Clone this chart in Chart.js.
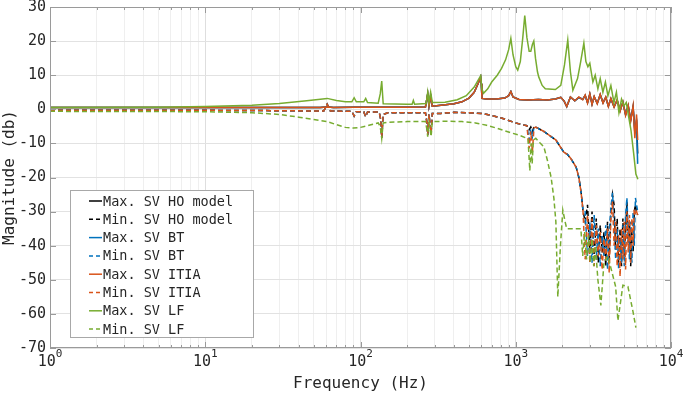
<!DOCTYPE html>
<html>
<head>
<meta charset="utf-8">
<script src="https://cdn.jsdelivr.net/npm/chart.js@4.4.1/dist/chart.umd.min.js"></script>
<style>
  body { margin: 0; background: #fff; }
  canvas { display: block; }
</style>
</head>
<body>
<canvas id="chart" width="685" height="393"></canvas>
<script>
// frequency grid (Hz) shared by the max SV curves of HO / BT / ITIA
const fMax = [1, 3, 10, 30, 55, 61, 67, 91, 137, 200,
  262, 271, 276, 283, 290, 330, 400, 450, 500, 540,
  575, 594, 600, 606, 650, 750, 850, 900, 930, 960,
  1050, 1200, 1400, 1600, 1800, 1950, 2050, 2130, 2250, 2400,
  2550, 2700, 2800, 2900, 3000, 3100, 3200, 3350, 3500, 3650,
  3800, 3950, 4100, 4300, 4500, 4700, 4900, 5100, 5300, 5500,
  5700, 5850, 6000, 6100];

const maxITIA = [0.5, 0.5, 0.5, 0.5, 0.5, 0.7, 0.5, 0.6, 0.6, 0.6,
  0.7, 4.5, 0.9, 4.0, 0.9, 1.2, 1.6, 2.2, 3.3, 5.0,
  7.8, 9.5, 7.5, 3.2, 3.0, 3.0, 3.3, 4.0, 5.2, 3.6,
  2.9, 2.7, 2.9, 2.7, 3.0, 3.5, 2.4, 0.8, 3.6, 2.5,
  3.6, 2.8, 4.2, 1.8, 4.6, 1.4, 3.8, 1.6, 4.4, 1.8,
  3.6, 0.8, 3.2, 0.6, 2.8, -0.6, 2.2, -1.8, 1.2, -3.5,
  1.0, -8.5, -1.5, -9];

const maxBT = [0.5, 0.5, 0.5, 0.5, 0.5, 0.7, 0.5, 0.6, 0.6, 0.6,
  0.7, 4.5, 0.9, 4.0, 0.9, 1.2, 1.6, 2.2, 3.3, 5.0,
  7.8, 9.5, 7.5, 3.2, 3.0, 3.0, 3.3, 4.0, 5.2, 3.6,
  2.9, 2.7, 2.9, 2.7, 3.0, 3.5, 2.4, 0.8, 3.6, 2.5,
  3.4, 3.0, 4.0, 2.0, 4.4, 1.6, 3.6, 1.8, 4.2, 2.0,
  3.4, 1.0, 3.0, 0.8, 2.6, -0.3, 2.0, -1.5, 1.0, -3.0,
  0.5, -6, -4, -16];

const maxHO = [0.5, 0.5, 0.5, 0.5, 0.5, 0.7, 0.5, 0.6, 0.6, 0.6,
  0.7, 4.5, 0.9, 4.0, 0.9, 1.2, 1.6, 2.2, 3.3, 5.0,
  7.8, 9.5, 7.5, 3.2, 3.0, 3.0, 3.3, 4.0, 5.2, 3.6,
  2.9, 2.7, 2.9, 2.7, 3.0, 3.5, 2.4, 0.8, 3.6, 2.5,
  3.5, 2.9, 4.1, 1.9, 4.5, 1.5, 3.7, 1.7, 4.3, 1.9,
  3.5, 0.9, 3.1, 0.7, 2.7, -0.4, 2.1, -1.6, 1.1, -3.2,
  0.8, -7, -3, -13];

// frequency grid (Hz) shared by the min SV curves of HO / BT / ITIA
const fMin = [1, 10, 30, 50, 58, 61, 64, 88, 91, 94,
  105, 108, 111, 132, 135, 137, 140, 150, 200, 262,
  268, 271, 276, 280, 285, 290, 330, 400, 500, 600,
  700, 800, 900, 1000, 1100, 1180, 1220, 1250, 1280, 1310,
  1346, 1517, 1813, 2040, 2150, 2260, 2450, 2550, 2640, 2710,
  2800, 2900, 3000, 3100, 3200, 3300, 3400, 3500, 3600, 3700,
  3800, 3900, 4000, 4100, 4200, 4300, 4400, 4500, 4600, 4700,
  4800, 4900, 5000, 5100, 5200, 5300, 5400, 5500, 5600, 5700,
  5800, 5900, 6000, 6100];

const minITIA = [-0.3, -0.3, -0.4, -0.5, -0.5, 1.5, -0.5, -0.6, -2.0, -0.7,
  -0.7, -2.2, -0.8, -0.8, -3.0, -8.3, -1.5, -1.0, -1.0, -1.0,
  -4.0, -7.5, -1.5, -4.0, -7.0, -1.2, -1.2, -0.9, -1.0, -1.2,
  -1.8, -2.5, -3.3, -4.0, -4.5, -4.8, -11.5, -6.5, -12.5, -5.5,
  -5.2, -6.5, -9.0, -12.6, -13.2, -14.4, -17.0, -20.0, -24.6, -29.6,
  -44, -31, -45, -32, -46, -34, -43, -36, -47, -38,
  -44, -35, -48, -32, -27, -40, -33, -46, -37, -49,
  -35, -44, -33, -47, -30, -42, -31, -45, -32, -40,
  -29, -31, -30, -31];

const minBT = [-0.3, -0.3, -0.4, -0.5, -0.5, 1.5, -0.5, -0.6, -2.0, -0.7,
  -0.7, -2.2, -0.8, -0.8, -3.0, -8.3, -1.5, -1.0, -1.0, -1.0,
  -4.0, -7.5, -1.5, -4.0, -7.0, -1.2, -1.2, -0.9, -1.0, -1.2,
  -1.8, -2.5, -3.3, -4.0, -4.5, -4.8, -9.0, -5.8, -8.0, -5.3,
  -5.2, -6.5, -9.0, -12.6, -13.2, -14.4, -17.0, -20.0, -24.6, -29.6,
  -30, -43, -33, -45, -31, -44, -35, -46, -37, -43,
  -34, -47, -36, -29, -24.5, -33, -44, -35, -47, -38,
  -45, -34, -46, -31, -26, -36, -44, -33, -45, -30,
  -40, -26, -28, -30];

const minHO = [-0.3, -0.3, -0.4, -0.5, -0.5, 1.5, -0.5, -0.6, -2.0, -0.7,
  -0.7, -2.2, -0.8, -0.8, -3.0, -8.3, -1.5, -1.0, -1.0, -1.0,
  -4.0, -7.5, -1.5, -4.0, -7.0, -1.2, -1.2, -0.9, -1.0, -1.2,
  -1.8, -2.5, -3.3, -4.0, -4.5, -4.8, -6.0, -5.2, -6.5, -5.2,
  -5.2, -6.5, -9.0, -12.6, -13.2, -14.4, -17.0, -20.0, -24.6, -29.6,
  -33, -28, -42, -30, -44, -32, -45, -34, -42, -36,
  -46, -33, -44, -30, -25, -28, -41, -32, -45, -35,
  -46, -32, -43, -36, -27, -39, -33, -46, -35, -42,
  -30, -28, -30, -31];

// LF reduced model
const fLfMax = [1, 5, 10, 20, 30, 45, 61, 70, 80, 88,
  91, 94, 105, 108, 111, 130, 134, 137, 140, 200,
  215, 219, 223, 265, 271, 276, 283, 290, 350, 420,
  480, 540, 580, 594, 605, 620, 660, 700, 760, 810,
  860, 900, 930, 960, 1000, 1030, 1070, 1110, 1143, 1180,
  1220, 1250, 1280, 1307, 1340, 1380, 1406, 1480, 1550, 1800,
  1950, 2060, 2163, 2250, 2333, 2500, 2620, 2746, 2830, 2915,
  3000, 3140, 3250, 3381, 3500, 3641, 3780, 3923, 4100, 4290,
  4450, 4620, 4800, 4975, 5150, 5280, 5520, 5750, 5940, 6120];

const maxLF = [0.5, 0.6, 0.8, 1.2, 1.7, 2.5, 3.2, 2.6, 2.2, 2.2,
  3.4, 2.2, 2.2, 3.2, 2.0, 1.8, 4.5, 8.3, 1.6, 1.5,
  1.5, 2.6, 1.5, 1.7, 5.0, 2.0, 5.0, 2.0, 2.1, 2.8,
  4.0, 6.5, 9.0, 9.8, 6.0, 4.7, 6.0, 8.0, 10.0, 12.0,
  14.5, 17.5, 20.8, 16.0, 12.5, 11.5, 14.0, 21.0, 27.5, 21.0,
  17.0, 17.0, 19.0, 20.0, 15.0, 11.0, 9.5, 7.0, 6.0, 5.8,
  7.0, 13.0, 20.3, 11.0, 5.6, 9.0, 14.0, 19.4, 14.0, 12.5,
  13.5, 8.0, 10.0, 6.0, 9.0, 5.0, 8.0, 4.0, 7.0, 2.0,
  5.0, -1.0, 3.0, 1.0, 2.0, -1.0, -6.0, -13.0, -19.0, -20.5];

const fLfMin = [1, 10, 20, 30, 40, 50, 61, 70, 80, 90,
  100, 115, 130, 134, 137, 140, 150, 200, 262, 268,
  271, 276, 280, 285, 290, 350, 450, 550, 650, 750,
  850, 950, 1050, 1150, 1200, 1232, 1255, 1275, 1300, 1346,
  1430, 1517, 1600, 1690, 1760, 1813, 1866, 1940, 2010, 2080,
  2130, 2300, 2500, 2627, 2700, 2780, 2860, 2940, 3020, 3100,
  3180, 3260, 3381, 3533, 3700, 3923, 4100, 4400, 4550, 4900,
  5280, 5700, 5940];

const minLF = [-0.6, -0.7, -1.0, -1.5, -2.3, -3.0, -3.6, -4.5, -5.3, -5.5,
  -5.3, -4.6, -4.0, -5.0, -8.5, -4.0, -3.8, -3.6, -3.6, -6.0,
  -8.0, -4.0, -5.5, -8.0, -3.6, -3.5, -3.6, -4.0, -4.7, -5.5,
  -6.3, -7.0, -7.6, -8.3, -8.7, -18.0, -10.0, -16.0, -9.0, -8.5,
  -9.8, -11.0, -15.0, -20.0, -26.0, -33.0, -55.0, -40.0, -29.6, -33.0,
  -35.0, -35.0, -35.0, -35.0, -43.0, -36.0, -44.0, -37.0, -45.0, -38.0,
  -46.0, -40.0, -50.0, -57.5, -45.0, -43.0, -46.5, -52.0, -62.0, -51.6,
  -52.0, -59.5, -64.0];

const xMajor = [1, 10, 100, 1000, 10000];
const yTicks = [-70, -60, -50, -40, -30, -20, -10, 0, 10, 20, 30];

const font = '"DejaVu Sans Mono", monospace';
const textColor = '#262626';

const series = [
  { label: 'Max. SV HO model', f: fMax, v: maxHO, color: '#000000', dash: [] },
  { label: 'Min. SV HO model', f: fMin, v: minHO, color: '#000000', dash: [5, 3] },
  { label: 'Max. SV BT', f: fMax, v: maxBT, color: '#0072BD', dash: [] },
  { label: 'Min. SV BT', f: fMin, v: minBT, color: '#0072BD', dash: [5, 3] },
  { label: 'Max. SV ITIA', f: fMax, v: maxITIA, color: '#D95319', dash: [] },
  { label: 'Min. SV ITIA', f: fMin, v: minITIA, color: '#D95319', dash: [5, 3] },
  { label: 'Max. SV LF', f: fLfMax, v: maxLF, color: '#77AC30', dash: [] },
  { label: 'Min. SV LF', f: fLfMin, v: minLF, color: '#77AC30', dash: [5, 3] }
];

// matlab plots later lines on top, chart.js draws the first dataset on top
const datasets = series.slice().reverse().map(s => ({
  label: s.label,
  data: s.f.map((x, i) => ({ x, y: s.v[i] })),
  borderColor: s.color,
  borderDash: s.dash,
  borderWidth: 1.5,
  pointRadius: 0,
  fill: false,
  tension: 0
}));

const buildXTicks = function(scale) {
  const ticks = [];
  for (let d = 0; d < xMajor.length - 1; d++) {
    for (let m = 1; m < 10; m++) {
      ticks.push({ value: m * xMajor[d], major: m === 1 });
    }
  }
  ticks.push({ value: xMajor[xMajor.length - 1], major: true });
  scale.ticks = ticks;
};

const frame = {
  id: 'frame',
  afterDraw(chart) {
    const ctx = chart.ctx;
    const ca = chart.chartArea;
    const xs = chart.scales.x;
    const ys = chart.scales.y;
    ctx.save();
    ctx.strokeStyle = '#9a9a9a';
    ctx.lineWidth = 1;

    // inward ticks on all four sides
    ctx.beginPath();
    xs.ticks.forEach(t => {
      const px = Math.round(xs.getPixelForValue(t.value)) + 0.5;
      const len = t.major ? 6 : 3;
      ctx.moveTo(px, ca.bottom); ctx.lineTo(px, ca.bottom - len);
      ctx.moveTo(px, ca.top); ctx.lineTo(px, ca.top + len);
    });
    ys.ticks.forEach(t => {
      const py = Math.round(ys.getPixelForValue(t.value)) + 0.5;
      ctx.moveTo(ca.left, py); ctx.lineTo(ca.left + 6, py);
      ctx.moveTo(ca.right, py); ctx.lineTo(ca.right - 6, py);
    });
    ctx.stroke();
    ctx.strokeRect(Math.round(ca.left) + 0.5, Math.round(ca.top) + 0.5,
      Math.round(ca.right - ca.left) - 1, Math.round(ca.bottom - ca.top) - 1);

    // x labels as 10 with a raised exponent
    ctx.fillStyle = textColor;
    ctx.textBaseline = 'middle';
    ctx.textAlign = 'left';
    xMajor.forEach(v => {
      const px = xs.getPixelForValue(v);
      const exp = String(Math.round(Math.log10(v)));
      ctx.font = '15px ' + font;
      const wb = ctx.measureText('10').width;
      ctx.font = '11px ' + font;
      const we = ctx.measureText(exp).width;
      const x0 = px - (wb + we) / 2;
      ctx.font = '15px ' + font;
      ctx.fillText('10', x0, ca.bottom + 14);
      ctx.font = '11px ' + font;
      ctx.fillText(exp, x0 + wb, ca.bottom + 6);
    });

    // legend box
    const lx = ca.left + 20;
    const lw = 183;
    const lh = 147;
    const ly = ca.bottom - 11 - lh;
    ctx.fillStyle = '#ffffff';
    ctx.fillRect(lx, ly, lw, lh);
    ctx.strokeStyle = '#a8a8a8';
    ctx.strokeRect(Math.round(lx) + 0.5, Math.round(ly) + 0.5, lw, lh);
    ctx.font = '13.5px ' + font;
    series.forEach((s, i) => {
      const y = ly + 11 + i * 18.3;
      ctx.strokeStyle = s.color;
      ctx.lineWidth = 1.5;
      ctx.setLineDash(s.dash.length ? [4, 3] : []);
      ctx.beginPath();
      ctx.moveTo(lx + 19, y);
      ctx.lineTo(lx + 32, y);
      ctx.stroke();
      ctx.setLineDash([]);
      ctx.fillStyle = textColor;
      ctx.fillText(s.label, lx + 33, y + 1);
    });
    ctx.restore();
  }
};

new Chart(document.getElementById('chart').getContext('2d'), {
  type: 'line',
  data: { datasets },
  options: {
    responsive: false,
    animation: false,
    devicePixelRatio: 1,
    layout: { padding: { top: 0, right: 14, left: 0, bottom: 0 } },
    plugins: { legend: { display: false }, tooltip: { enabled: false } },
    scales: {
      x: {
        type: 'logarithmic',
        min: xMajor[0],
        max: xMajor[xMajor.length - 1],
        afterBuildTicks: buildXTicks,
        afterFit: s => { s.height = 45; s.paddingLeft = 0; s.paddingRight = 0; },
        border: { display: false },
        grid: {
          drawTicks: false,
          color: c => (c.tick && c.tick.major ? '#dedede' : '#efefef')
        },
        ticks: {
          autoSkip: false,
          maxRotation: 0,
          padding: 3,
          font: { family: font, size: 15 },
          callback: () => ''
        },
        title: {
          display: true,
          text: 'Frequency (Hz)',
          color: textColor,
          padding: 0,
          font: { family: font, size: 16 }
        }
      },
      y: {
        min: yTicks[0],
        max: yTicks[yTicks.length - 1],
        afterBuildTicks: s => { s.ticks = yTicks.map(v => ({ value: v })); },
        afterFit: s => { s.width = 50; s.paddingTop = 7; s.paddingBottom = 0; },
        border: { display: false },
        grid: { drawTicks: false, color: '#e2e2e2' },
        ticks: {
          padding: 4,
          color: textColor,
          font: { family: font, size: 15 }
        },
        title: {
          display: true,
          text: 'Magnitude (db)',
          color: textColor,
          padding: 0,
          font: { family: font, size: 16 }
        }
      }
    }
  },
  plugins: [frame]
});
</script>
</body>
</html>
